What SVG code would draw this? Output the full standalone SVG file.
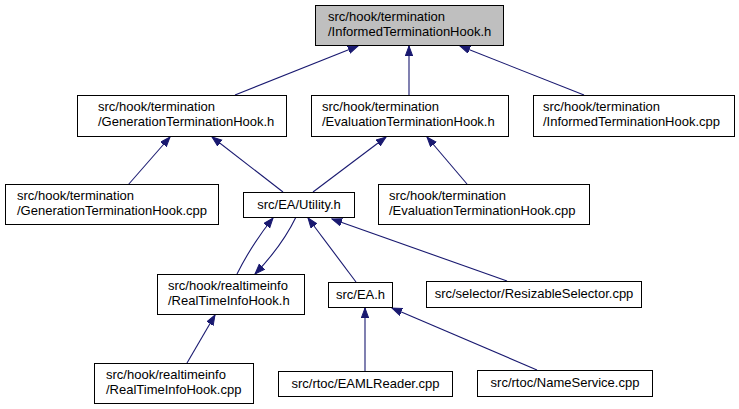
<svg xmlns="http://www.w3.org/2000/svg" width="739" height="409" viewBox="0 0 739 409">
<style>
.n rect{fill:#ffffff;stroke:#000000;stroke-width:1}
.n.root rect{fill:#bfbfbf}
.n text{font-family:"Liberation Sans",Arial,sans-serif;font-size:13px;fill:#000000}
.n text.c{text-anchor:middle}
#edges path{fill:none;stroke:#191970;stroke-width:1.1}
</style>
<defs>
<marker id="ah" markerUnits="userSpaceOnUse" markerWidth="11" markerHeight="9" refX="10" refY="4" orient="auto" viewBox="0 0 11 9">
<path d="M0,0.3 L10,4 L0,7.7 z" fill="#191970" stroke="#191970" stroke-width="1"/>
</marker>
</defs>
<rect width="739" height="409" fill="#ffffff"/>
<g id="edges">
<path d="M235,95 L358,46" marker-end="url(#ah)"/>
<path d="M409,95 L409,46" marker-end="url(#ah)"/>
<path d="M584,95 L460,46" marker-end="url(#ah)"/>
<path d="M128,185 L170,137" marker-end="url(#ah)"/>
<path d="M283,192 L212,137" marker-end="url(#ah)"/>
<path d="M313,192 L386,137" marker-end="url(#ah)"/>
<path d="M467,184 L427,137" marker-end="url(#ah)"/>
<path d="M237,274 Q252,244 273,218" marker-end="url(#ah)"/>
<path d="M296,217 Q282,246 255,274" marker-end="url(#ah)"/>
<path d="M356,282 L308,218" marker-end="url(#ah)"/>
<path d="M507,281 L332,219" marker-end="url(#ah)"/>
<path d="M187,363 L215,315" marker-end="url(#ah)"/>
<path d="M365,371 L365,308" marker-end="url(#ah)"/>
<path d="M537,370 L392,308" marker-end="url(#ah)"/>
</g>
<g id="n_root" class="n root"><rect x="315.5" y="5.5" width="188" height="40"/><text x="328" y="21">src/hook/termination</text><text x="328" y="36">/InformedTerminationHook.h</text></g>
<g id="n_genh" class="n"><rect x="77.5" y="95.5" width="209" height="41"/><text x="98" y="111">src/hook/termination</text><text x="98" y="126">/GenerationTerminationHook.h</text></g>
<g id="n_evalh" class="n"><rect x="311.5" y="95.5" width="197" height="41"/><text x="322" y="111">src/hook/termination</text><text x="322" y="126">/EvaluationTerminationHook.h</text></g>
<g id="n_infcpp" class="n"><rect x="533.5" y="95.5" width="201" height="41"/><text x="543" y="111">src/hook/termination</text><text x="543" y="126">/InformedTerminationHook.cpp</text></g>
<g id="n_gencpp" class="n"><rect x="5.5" y="184.5" width="213" height="40"/><text x="17" y="200">src/hook/termination</text><text x="17" y="215">/GenerationTerminationHook.cpp</text></g>
<g id="n_util" class="n"><rect x="243.5" y="192.5" width="111" height="25"/><text class="c" x="299" y="209">src/EA/Utility.h</text></g>
<g id="n_evalcpp" class="n"><rect x="378.5" y="184.5" width="211" height="40"/><text x="389" y="200">src/hook/termination</text><text x="389" y="215">/EvaluationTerminationHook.cpp</text></g>
<g id="n_rtih" class="n"><rect x="157.5" y="274.5" width="147" height="40"/><text x="168" y="290">src/hook/realtimeinfo</text><text x="168" y="305">/RealTimeInfoHook.h</text></g>
<g id="n_eah" class="n"><rect x="328.5" y="282.5" width="64" height="25"/><text class="c" x="360.5" y="299">src/EA.h</text></g>
<g id="n_resel" class="n"><rect x="426.5" y="281.5" width="215" height="26"/><text class="c" x="534" y="298">src/selector/ResizableSelector.cpp</text></g>
<g id="n_rticpp" class="n"><rect x="94.5" y="363.5" width="159" height="40"/><text x="106" y="379">src/hook/realtimeinfo</text><text x="106" y="394">/RealTimeInfoHook.cpp</text></g>
<g id="n_eaml" class="n"><rect x="278.5" y="371.5" width="174" height="25"/><text class="c" x="365.5" y="388">src/rtoc/EAMLReader.cpp</text></g>
<g id="n_names" class="n"><rect x="477.5" y="370.5" width="175" height="26"/><text class="c" x="565" y="387">src/rtoc/NameService.cpp</text></g>
</svg>
